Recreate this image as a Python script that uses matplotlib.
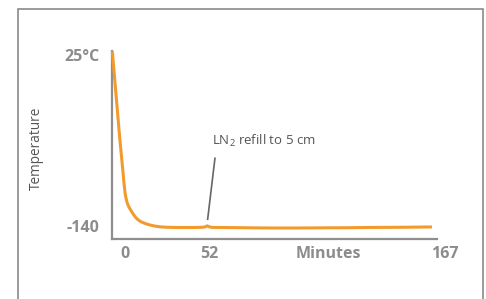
import matplotlib
matplotlib.use("Agg")
import matplotlib.pyplot as plt
from matplotlib.patches import Rectangle

# ---- data ----
minutes = [0, 1, 2, 3, 4, 4.5, 5, 5.5, 5.9, 6.3, 6.8, 7.2, 7.7, 8.2, 8.8, 9.4, 10, 10.8,
           11.5, 12.3, 13.1, 14, 15, 16.3, 17.7, 20, 23, 26, 30, 35, 40, 45, 48, 50,
           51, 52, 53, 54, 56, 60, 70, 80, 90, 100, 110, 120, 130, 140, 150, 160, 170, 175]
temps = [25, 5, -15, -35, -55, -64, -73, -82, -89, -97, -105, -110, -114, -117.2, -119.8,
         -121.8, -123.5, -125.7, -127.6, -129.5, -131.2, -132.6, -133.9, -135.1, -136.1,
         -137.4, -138.6, -139.4, -139.8, -140, -140, -140, -139.9, -139.7,
         -139.3, -138.5, -139.3, -139.8, -140, -140, -140.2, -140.4, -140.5, -140.5,
         -140.4, -140.3, -140.2, -140, -139.9, -139.8, -139.6, -139.5]

x_tick_pos = [7.0, 52.9, 118.2, 182.0]
x_tick_labels = ["0", "52", "Minutes", "167"]
y_tick_pos = [19.4, -140.7]
y_tick_labels = ["25°C", "-140"]

note_text = "LN$_2$ refill to 5 cm"
note_point = (52.2, -132.3)
note_line_end = (56.2, -75.3)
note_text_pos = (54.7, -59.5)

# ---- style ----
plt.rcParams["mathtext.fontset"] = "custom"
plt.rcParams["mathtext.rm"] = "Open Sans"
orange = "#F39A2C"
axis_gray = "#8E8E8E"
label_gray = "#8C8C8C"
text_gray = "#555555"

W, H = 486, 299
fig = plt.figure(figsize=(W / 100, H / 100), dpi=100)
fig.patch.set_facecolor("white")

# outer frame
fig.patches.append(Rectangle((18 / W, -0.1), (483 - 18) / W, (H - 9) / H + 0.1,
                             transform=fig.transFigure, fill=False,
                             edgecolor="#8A8A8A", linewidth=1.2))

left, right = 111.7, 436.7
top, bottom = 51.0, 238.7
ax = fig.add_axes([left / W, (H - bottom) / H, (right - left) / W, (bottom - top) / H])
ax.set_facecolor("none")

ax.plot(minutes, temps, color=orange, lw=2.2, solid_capstyle="butt", clip_on=False, zorder=3)

ax.set_xlim(-0.33, 177.6)
ax.set_ylim(-150.5, 25)
for s in ["top", "right"]:
    ax.spines[s].set_visible(False)
for s in ["left", "bottom"]:
    ax.spines[s].set_color(axis_gray)
    ax.spines[s].set_linewidth(1.6)
ax.set_xticks([])
ax.set_yticks([])

for xp, lab in zip(x_tick_pos, x_tick_labels):
    ax.text(xp, -0.083, lab, transform=ax.get_xaxis_transform(), ha="center", va="center",
            fontsize=11.5, fontweight="bold", color=label_gray, family="Open Sans", clip_on=False)
for yp, lab in zip(y_tick_pos, y_tick_labels):
    ax.text(-0.038, yp, lab, transform=ax.get_yaxis_transform(), ha="right", va="center",
            fontsize=11.5, fontweight="bold", color=label_gray, family="Open Sans", clip_on=False)

fig.text(36.7 / W, (H - 148.3) / H, "Temperature", rotation=90, ha="center", va="center",
         fontsize=9.8, color=text_gray, family="Open Sans")

ax.plot([note_point[0], note_line_end[0]], [note_point[1], note_line_end[1]],
        color="#666666", lw=1.2, zorder=2)
ax.text(note_text_pos[0], note_text_pos[1], note_text, ha="left", va="center",
        fontsize=9.5, color=text_gray, family="Open Sans")

fig.savefig("out.png", dpi=100)
